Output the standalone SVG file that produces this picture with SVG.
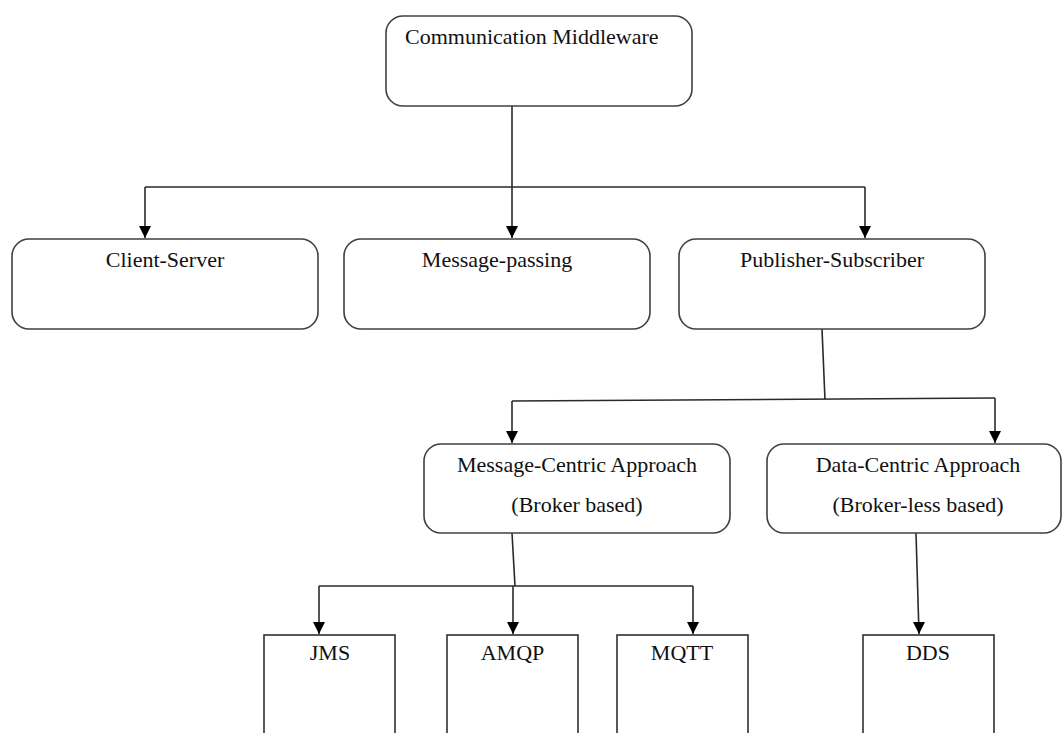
<svg xmlns="http://www.w3.org/2000/svg" width="1062" height="733" viewBox="0 0 1062 733">
<style>
.box{fill:#fff;stroke:#404040;stroke-width:1.6}
.sq{fill:#fff;stroke:#303030;stroke-width:1.6}
.t{font-family:"Liberation Serif","Times New Roman",serif;font-size:22px;fill:#111;text-anchor:middle}
.c{fill:none;stroke:#2a2a2a;stroke-width:1.6}
</style>
<defs>
<marker id="ahd" markerUnits="userSpaceOnUse" markerWidth="12" markerHeight="12" viewBox="0 0 12 12" refX="6" refY="12" orient="0">
<path d="M0,0 L12,0 L6,12 Z" fill="#000"/>
</marker>
</defs>
<rect width="1062" height="733" fill="#fff"/>
<g id="connectors">
<path class="c" d="M512,106 V187 M145,187 H865"/>
<path class="c" d="M822,329 L825,400 M512,401 L995,398"/>
<path class="c" d="M512,533 L515,586 M319,586 H693"/>
<path class="c" d="M145,187 V238" marker-end="url(#ahd)"/>
<path class="c" d="M512,187 V238" marker-end="url(#ahd)"/>
<path class="c" d="M865,187 V238" marker-end="url(#ahd)"/>
<path class="c" d="M512,401 V443" marker-end="url(#ahd)"/>
<path class="c" d="M995,398 V443" marker-end="url(#ahd)"/>
<path class="c" d="M319,586 V634" marker-end="url(#ahd)"/>
<path class="c" d="M513,586 V634" marker-end="url(#ahd)"/>
<path class="c" d="M693,586 V634" marker-end="url(#ahd)"/>
<path class="c" d="M916,533 L919,634" marker-end="url(#ahd)"/>
</g>
<g id="n-middleware">
<rect class="box" x="386" y="16" width="306" height="90" rx="17"/>
<text class="t" x="405" y="44" style="text-anchor:start">Communication Middleware</text>
</g>
<g id="n-client-server">
<rect class="box" x="12" y="239" width="306" height="90" rx="17"/>
<text class="t" x="165" y="267">Client-Server</text>
</g>
<g id="n-message-passing">
<rect class="box" x="344" y="239" width="306" height="90" rx="17"/>
<text class="t" x="497" y="267">Message-passing</text>
</g>
<g id="n-pubsub">
<rect class="box" x="679" y="239" width="306" height="90" rx="17"/>
<text class="t" x="832" y="267">Publisher-Subscriber</text>
</g>
<g id="n-message-centric">
<rect class="box" x="424" y="444" width="306" height="89" rx="17"/>
<text class="t" x="577" y="472">Message-Centric Approach</text>
<text class="t" x="577" y="512">(Broker based)</text>
</g>
<g id="n-data-centric">
<rect class="box" x="767" y="444" width="294" height="89" rx="17"/>
<text class="t" x="918" y="472">Data-Centric Approach</text>
<text class="t" x="918" y="512">(Broker-less based)</text>
</g>
<g id="n-jms">
<rect class="sq" x="264" y="635" width="131" height="120"/>
<text class="t" x="330" y="660">JMS</text>
</g>
<g id="n-amqp">
<rect class="sq" x="447" y="635" width="131" height="120"/>
<text class="t" x="512.5" y="660">AMQP</text>
</g>
<g id="n-mqtt">
<rect class="sq" x="617" y="635" width="131" height="120"/>
<text class="t" x="682" y="660">MQTT</text>
</g>
<g id="n-dds">
<rect class="sq" x="863" y="635" width="131" height="120"/>
<text class="t" x="928" y="660">DDS</text>
</g>
</svg>
